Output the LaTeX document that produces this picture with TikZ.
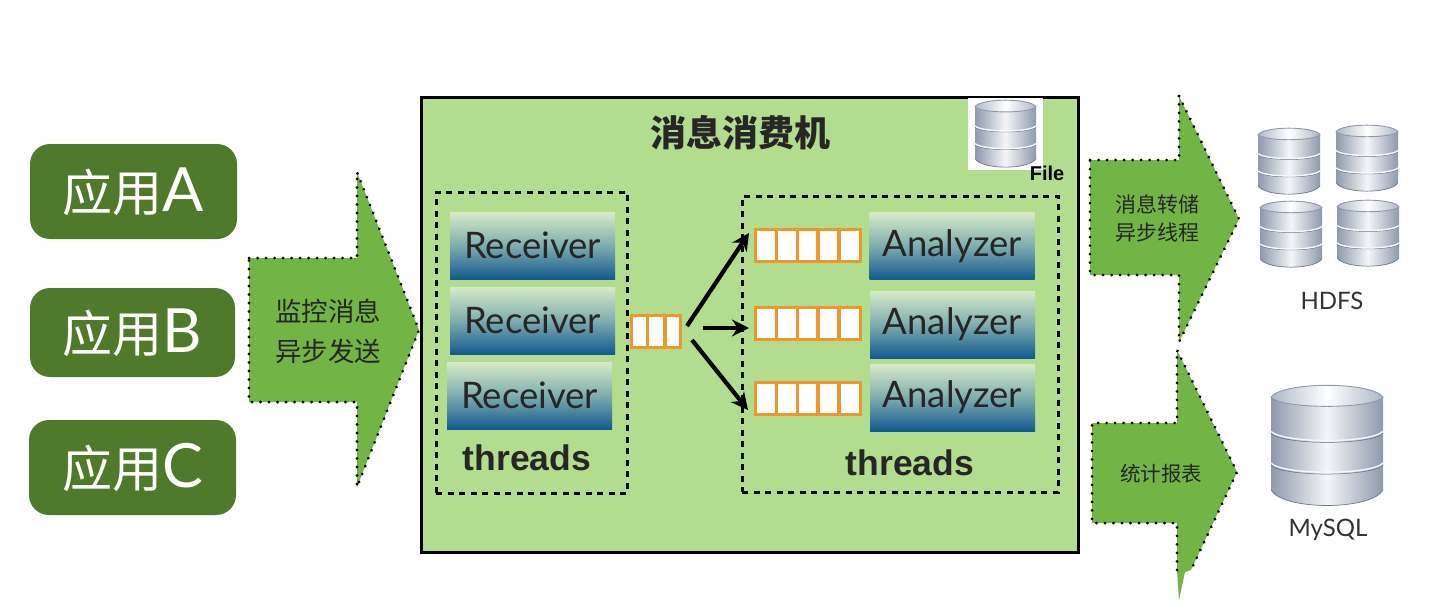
\documentclass[tikz,border=0pt]{standalone}
\usepackage{fontspec}
\setmainfont{Liberation Sans}
\newfontfamily\cjk{Noto Sans CJK SC}
\newfontfamily\thinfont{Lato}
\usetikzlibrary{arrows.meta}

\definecolor{appgreen}{HTML}{4F7A2B}
\definecolor{panelgreen}{HTML}{B2DD8E}
\definecolor{arrowgreen}{HTML}{72B546}
\definecolor{queueorange}{HTML}{F0962E}
\definecolor{boxtop}{HTML}{D6EAC8}
\definecolor{boxmid}{HTML}{7FADAE}
\definecolor{boxbot}{HTML}{14598F}
\definecolor{dbdark}{HTML}{8E99AC}
\definecolor{dblight}{HTML}{F4F6F8}

\newcommand{\applabel}[1]{\cjk\fontsize{50}{50}\selectfont 应用\thinfont\fontsize{61}{61}\selectfont #1}

\tikzset{
	appbox/.style={fill=appgreen, rounded corners=20pt, text=white, inner sep=0pt},
	workbox/.style={top color=boxtop, bottom color=boxbot, middle color=boxmid, minimum width=165pt, minimum height=67pt, inner sep=0pt, text=black!85, font=\thinfont\fontsize{36.5}{36.5}\selectfont},
	threadbox/.style={draw=black, line width=3pt, dash pattern=on 6pt off 5.5pt},
	bigarrow/.style={fill=arrowgreen},
	dotline/.style={draw=black, line width=3pt, line cap=round, line join=round, dash pattern=on .1pt off 8.4pt},
	queueline/.style={draw=queueorange, line width=3.2pt},
	flowarrow/.style={-{Stealth[length=17pt,width=17pt]}, line width=4.2pt},
	arrowtext/.style={font=\cjk\fontsize{21}{28}\selectfont, align=center, text=black!85},
	threadtext/.style={font=\bfseries\fontsize{35.5}{35.5}\selectfont, text=black!85},
	dbtext/.style={font=\thinfont\fontsize{24}{24}\selectfont, text=black!80}
}

% x y width height
\newcommand{\dbicon}[4]{
	\begin{scope}[shift={(#1,#2)}, x=#3pt, y=-#4pt]
		\shade [left color=dbdark, right color=dbdark, middle color=dblight]
			(0,.1) -- (0,.86) .. controls (.1,1.03) and (.9,1.03) .. (1,.86) -- (1,.1)
			.. controls (.9,-.03) and (.1,-.03) .. (0,.1) -- cycle;
		\draw [dbdark!80!black, line width=.7pt] (0,.86) .. controls (.1,1.03) and (.9,1.03) .. (1,.86);
		\shade [left color=dbdark!70!white, right color=dbdark!70!white, middle color=white, draw=dbdark, line width=.9pt]
			(0,.1) .. controls (.1,-.03) and (.9,-.03) .. (1,.1)
			.. controls (.9,.2) and (.1,.2) .. (0,.1) -- cycle;
		\foreach \y in {.38,.64} {
			\draw [dbdark!70!black, line width=.5pt] (0,\y+.015) .. controls (.1,\y+.115) and (.9,\y+.115) .. (1,\y+.015);
			\draw [white!92!dbdark, line width=1.4pt] (0,\y) .. controls (.1,\y+.1) and (.9,\y+.1) .. (1,\y);
		}
	\end{scope}
}

\begin{document}
\begin{tikzpicture}[x=1pt, y=-1pt]
	\useasboundingbox (0,0) rectangle (1434,600);

	% applications
	\node (appa) at (133.5,191.5) [appbox, minimum width=207pt, minimum height=95pt] {\applabel{A}};
	\node (appb) at (132.5,332.5) [appbox, minimum width=205pt, minimum height=89pt] {\applabel{B}};
	\node (appc) at (132.5,467.5) [appbox, minimum width=207pt, minimum height=95pt] {\applabel{C}};

	% left arrow
	\fill [bigarrow] (249,258) -- (357,258) -- (357,172) -- (419,330) -- (357,487) -- (357,402) -- (249,402) -- cycle;
	\draw [dotline] (249,258) -- (357,258) -- (357,172) -- (419,330) -- (357,487) -- (357,402) -- (249,402) -- cycle;
	\node (sendtext) at (328,331) [arrowtext, font=\cjk\fontsize{26.5}{40}\selectfont] {监控消息\\异步发送};

	% main panel
	\node (panel) at (749.5,324.5) [draw=black, line width=3pt, fill=panelgreen, minimum width=657pt, minimum height=455pt] {};
	\node (title) at (740,133) [font=\cjk\bfseries\fontsize{36}{36}\selectfont, text=black!85] {消息消费机};

	% file store
	\node (filebg) at (1005.5,134) [fill=white, minimum width=75pt, minimum height=72pt, inner sep=0pt] {};
	\dbicon{975}{100}{61}{68}
	\node (file) at (1047,173) [font=\bfseries\fontsize{20}{20}\selectfont, text=black] {File};

	% thread groups
	\node (recvgroup) at (531.5,342.5) [threadbox, minimum width=191pt, minimum height=301pt] {};
	\node (anagroup) at (900,344) [threadbox, minimum width=316pt, minimum height=296pt] {};

	\foreach \n/\x/\y in {recva/532.5/245.5, recvb/532.5/320.5, recvc/529.5/395.5} {
		\node (\n) at (\x,\y) [workbox] {\raisebox{-3pt}{Receiver}};
	}
	\foreach \n/\x/\y in {anaa/952/246, anab/952.5/324.5, anac/952.5/397.5} {
		\node (\n) at (\x,\y) [workbox] {\raisebox{-3pt}{Analyzer}};
	}
	\node (recvthreads) at (527,458) [threadtext] {threads};
	\node (anathreads) at (910,463) [threadtext] {threads};

	% queues
	\node (queue) at (656,331.5) [queueline, fill=white, minimum width=48.5pt, minimum height=32pt, inner sep=0pt] {};
	\foreach \x in {647.5,665} {
		\draw [queueline] (\x,315.5) -- (\x,347.5);
	}
	\foreach \n/\y in {quea/245.5, queb/323.5, quec/398.5} {
		\node (\n) at (808,\y) [queueline, fill=white, minimum width=105pt, minimum height=32pt, inner sep=0pt] {};
		\foreach \x in {776.5,797.5,818,839} {
			\draw [queueline] (\x,\y-16) -- (\x,\y+16);
		}
	}

	% queue arrows
	\coordinate (outa) at (687,326);
	\coordinate (outb) at (703,328);
	\coordinate (outc) at (692,340);
	\coordinate (ina) at (749,233);
	\coordinate (inb) at (749,328);
	\coordinate (inc) at (748,410);
	\draw [flowarrow] (outa) -- (ina);
	\draw [flowarrow] (outb) -- (inb);
	\draw [flowarrow] (outc) -- (inc);

	% right arrows
	\fill [bigarrow] (1090,160) -- (1179,160) -- (1179,96) -- (1239,219) -- (1179,342) -- (1179,275) -- (1090,275) -- cycle;
	\draw [dotline] (1090,160) -- (1179,160) -- (1179,96) -- (1239,219) -- (1179,342) -- (1179,275) -- (1090,275) -- cycle;
	\node (dumptext) at (1157,218) [arrowtext] {消息转储\\异步线程};

	\fill [bigarrow] (1092,423) -- (1177,423) -- (1177,350) -- (1237,472) -- (1191,570) -- (1185,572) -- (1179,600) -- (1177,570) -- (1177,523) -- (1092,523) -- cycle;
	\draw [dotline] (1177,570) -- (1177,523) -- (1092,523) -- (1092,423) -- (1177,423) -- (1177,350) -- (1237,472) -- (1191,570);
	\node (reporttext) at (1161,474) [arrowtext, font=\cjk\fontsize{20.5}{20.5}\selectfont] {统计报表};

	% hdfs
	\foreach \x/\y in {1258/128, 1336/125, 1260/201, 1337/200} {
		\dbicon{\x}{\y}{62}{67}
	}
	\node (hdfs) at (1332,301) [dbtext] {HDFS};

	% mysql
	\dbicon{1271}{385}{112}{122}
	\node (mysql) at (1328,530) [dbtext] {MySQL};
\end{tikzpicture}
\end{document}
